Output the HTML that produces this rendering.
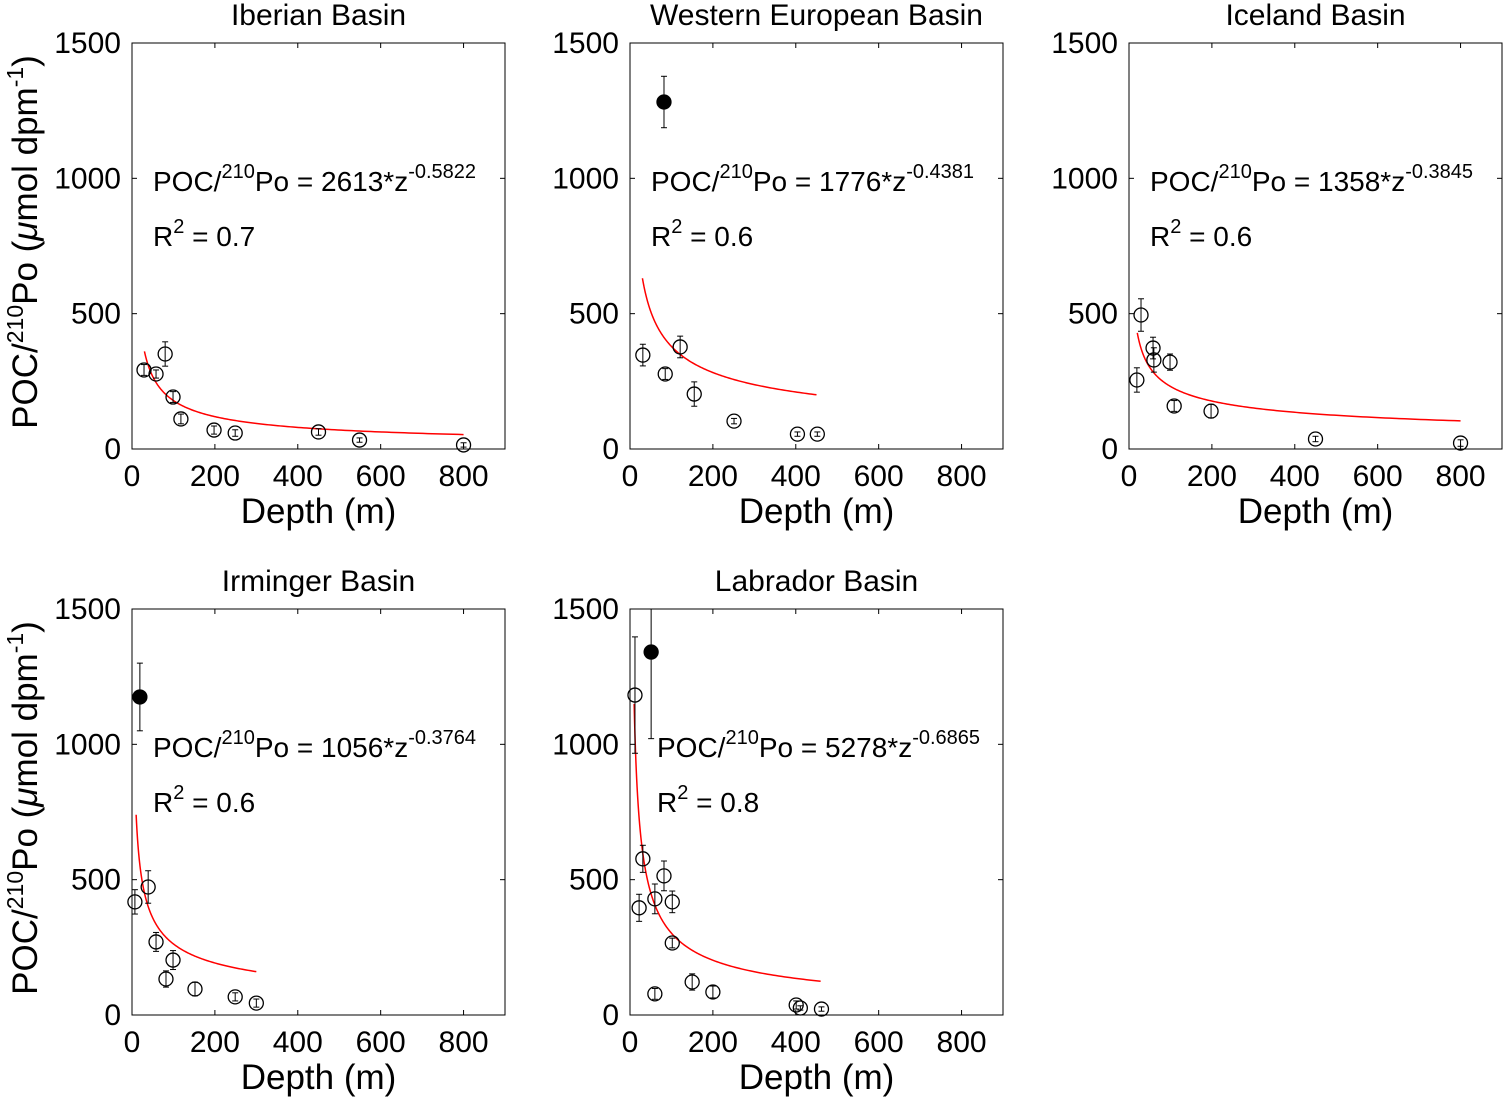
<!DOCTYPE html>
<html><head><meta charset="utf-8"><style>
body{margin:0;background:#fff;}
svg{display:block;font-family:"Liberation Sans",Arial,sans-serif;}
</style></head><body>
<svg id="fig" width="1503" height="1097" viewBox="0 0 1503 1097" xmlns="http://www.w3.org/2000/svg"></svg>
<script>
const panelTitles=["Iberian Basin","Western European Basin","Iceland Basin","Irminger Basin","Labrador Basin"];
const coefA=[2613,1776,1358,1056,5278];
const coefB=[-0.5822,-0.4381,-0.3845,-0.3764,-0.6865];
const drawA=[2613,2665,1358,2085,4370];
const drawB=[-0.5822,-0.4236,-0.3845,-0.450,-0.580];
const r2Vals=["0.7","0.6","0.6","0.6","0.8"];
const fitRange=[[30,800],[30,450],[20,800],[10,300],[10,460]];
const xTicks=[0,200,400,600,800];
const yTicks=[0,500,1000,1500];
const openDepth=[
[29,58,80,99,118,198,249,450,549,800],
[31,85,121,155,251,404,452],
[29,19,58,60,99,109,198,450,800],
[7,39,58,99,82,152,249,300],
[12,31,22,60,82,102,102,60,150,200,401,411,462]];
const openVal=[
[292,277,351,192,111,70,59,63,33,15],
[347,277,377,203,103,55,55],
[495,255,373,329,321,159,140,37,22],
[418,473,270,203,133,96,67,44],
[1182,577,396,429,514,418,266,78,122,85,37,26,22]];
const openErr=[
[20,15,45,20,18,15,12,12,8,8],
[40,20,40,45,10,8,8],
[60,45,40,45,30,20,25,10,12],
[45,60,35,35,30,25,15,15],
[215,50,50,55,55,40,18,20,30,22,15,8,8]];
const filledDepth=[[],[82],[],[19],[51]];
const filledVal=[[],[1282],[],[1175],[1341]];
const filledErr=[[],[95],[],[125],[320]];

const NS="http://www.w3.org/2000/svg";
const svg=document.getElementById('fig');
function mk(tag,attrs,parent){const e=document.createElementNS(NS,tag);for(const k in attrs)e.setAttribute(k,attrs[k]);(parent||svg).appendChild(e);return e;}
const origins=[[132,43],[630,43],[1129,43],[132,609],[630,609]];
const W=373,H=406,XMAX=900,YMAX=1500;
for(let p=0;p<5;p++){
  const [ox,oy]=origins[p];
  const g=mk('g',{});
  
  
  const sx=d=>ox+d/XMAX*W, sy=v=>oy+H-v/YMAX*H;
  const box=mk('rect',{x:ox,y:oy,width:W,height:H,fill:'none',stroke:'#000','stroke-width':1},g);
  
  const t=mk('text',{x:ox+W/2,y:oy-18,'text-anchor':'middle','font-size':30},g);
  t.textContent=panelTitles[p];
  
  for(const xt of xTicks){const x=sx(xt);
    mk('line',{x1:x,x2:x,y1:oy+H,y2:oy+H-5,stroke:'#000'},g);
    mk('line',{x1:x,x2:x,y1:oy,y2:oy+5,stroke:'#000'},g);
    const l=mk('text',{x:x,y:oy+H+37,'text-anchor':'middle','font-size':30},g);l.textContent=xt;
    }
  for(const yt of yTicks){const y=sy(yt);
    mk('line',{x1:ox,x2:ox+5,y1:y,y2:y,stroke:'#000'},g);
    mk('line',{x1:ox+W,x2:ox+W-5,y1:y,y2:y,stroke:'#000'},g);
    const l=mk('text',{x:ox-11,y:y+10,'text-anchor':'end','font-size':30},g);l.textContent=yt;
    }
  const xl=mk('text',{x:ox+W/2,y:oy+H+74,'text-anchor':'middle','font-size':35},g);xl.textContent='Depth (m)';
  
  if(p===0||p===3){
    const yl=mk('text',{transform:`translate(37,${oy+H/2-4}) rotate(-90)`,'text-anchor':'middle','font-size':35},g);
    yl.innerHTML='POC/<tspan font-size="23" dy="-14">210</tspan><tspan dy="14">Po (</tspan><tspan font-style="italic">μ</tspan>mol dpm<tspan font-size="23" dy="-14">-1</tspan><tspan dy="14">)</tspan>';
    }
  const ex=ox+(p===4?27:21);
  const eq=mk('text',{x:ex,y:oy+148,'font-size':28},g);
  eq.innerHTML=`POC/<tspan font-size="20" dy="-13">210</tspan><tspan dy="13">Po = ${coefA[p]}*z</tspan><tspan font-size="20" dy="-13">${coefB[p]}</tspan>`;
  
  const r2=mk('text',{x:ex,y:oy+203,'font-size':28},g);
  r2.innerHTML=`R<tspan font-size="20" dy="-13">2</tspan><tspan dy="13"> = ${r2Vals[p]}</tspan>`;
  
  const [z0,z1]=fitRange[p];let d='';
  for(let i=0;i<=200;i++){const z=z0*Math.pow(z1/z0,i/200);const v=drawA[p]*Math.pow(z,drawB[p]);
    d+=(i?'L':'M')+sx(z).toFixed(2)+','+sy(Math.min(v,1500)).toFixed(2);}
  const fl=mk('path',{d:d,fill:'none',stroke:'#ff0000','stroke-width':1.5},g);
  
  function pt(z,v,e,filled){
    const x=sx(z),y=sy(v);
    const eb=mk('g',{},g);
    
    mk('line',{x1:x,x2:x,y1:sy(Math.min(v+e,1500)),y2:sy(Math.max(v-e,0)),stroke:'#000','stroke-width':1},eb);
    if(v+e<1500)mk('line',{x1:x-3,x2:x+3,y1:sy(v+e),y2:sy(v+e),stroke:'#000'},eb);
    mk('line',{x1:x-3,x2:x+3,y1:sy(Math.max(v-e,0)),y2:sy(Math.max(v-e,0)),stroke:'#000'},eb);
    const c=mk('circle',{cx:x,cy:y,r:7,fill:filled?'#000':'none',stroke:'#000','stroke-width':1.3},g);
    
    
  }
  for(let i=0;i<openDepth[p].length;i++)pt(openDepth[p][i],openVal[p][i],openErr[p][i],false);
  for(let i=0;i<filledDepth[p].length;i++)pt(filledDepth[p][i],filledVal[p][i],filledErr[p][i],true);
}
</script>
</body></html>
